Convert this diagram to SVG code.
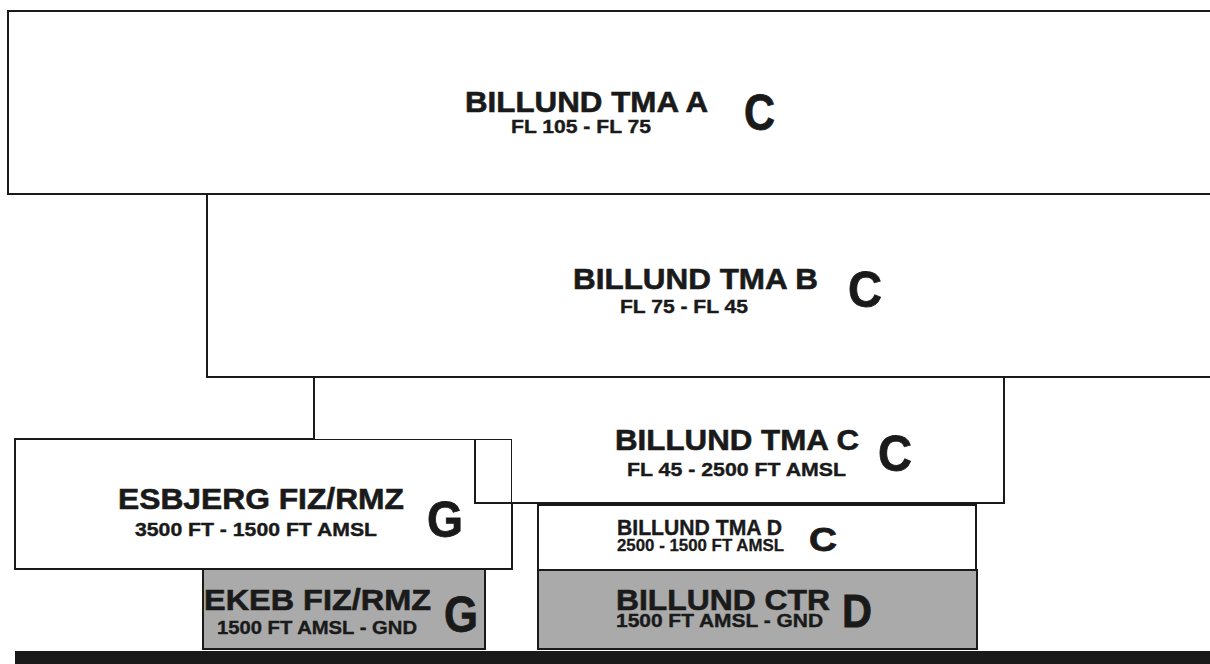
<svg xmlns="http://www.w3.org/2000/svg" width="1210" height="664" viewBox="0 0 1210 664">
<style>
.box{fill:#ffffff;stroke:#1a1a1a;stroke-width:2}
.gray{fill:#aaaaaa;stroke:#1a1a1a;stroke-width:2}
text{font-family:"Liberation Sans",Arial,sans-serif;font-weight:bold;fill:#1a1a1a;stroke:#1a1a1a;stroke-width:0.6}
.t{font-size:30px}
.s{font-size:19px;stroke-width:0.4}
.d{font-size:22px;stroke-width:0.4}
.d2{font-size:17px;stroke-width:0.3}
.big{font-size:50px;stroke-width:0.8}
</style>
<rect x="0" y="0" width="1210" height="664" fill="#ffffff"/>
<g id="tma-a">
<rect class="box" x="8" y="11" width="1220" height="183"/>
<text class="t" x="465" y="112" textLength="243" lengthAdjust="spacingAndGlyphs">BILLUND TMA A</text>
<text class="s" x="511" y="133" textLength="140" lengthAdjust="spacingAndGlyphs">FL 105 - FL 75</text>
<text class="big" x="744" y="130" textLength="31" lengthAdjust="spacingAndGlyphs">C</text>
</g>
<g id="tma-b">
<rect class="box" x="207" y="194" width="1020" height="183"/>
<text class="t" x="573" y="289" textLength="245" lengthAdjust="spacingAndGlyphs">BILLUND TMA B</text>
<text class="s" x="620" y="313" textLength="128" lengthAdjust="spacingAndGlyphs">FL 75 - FL 45</text>
<text class="big" x="848" y="307" textLength="34" lengthAdjust="spacingAndGlyphs">C</text>
</g>
<g id="esbjerg">
<rect class="box" x="15" y="439" width="497" height="130"/>
<text class="t" x="118" y="509" textLength="286" lengthAdjust="spacingAndGlyphs">ESBJERG FIZ/RMZ</text>
<text class="s" x="135" y="536" textLength="242" lengthAdjust="spacingAndGlyphs">3500 FT - 1500 FT AMSL</text>
<text class="big" x="427" y="537" textLength="36" lengthAdjust="spacingAndGlyphs">G</text>
</g>
<g id="tma-c">
<path d="M314 377 H1004 V503 H512 V439 H314 Z" fill="#ffffff" stroke="none"/>
<path d="M314 439 V377 H1004 V503 H475 V439" fill="none" stroke="#1a1a1a" stroke-width="2"/>
<text class="t" x="615" y="450" textLength="244" lengthAdjust="spacingAndGlyphs">BILLUND TMA C</text>
<text class="s" x="627" y="476" textLength="219" lengthAdjust="spacingAndGlyphs">FL 45 - 2500 FT AMSL</text>
<text class="big" x="878" y="471" textLength="34" lengthAdjust="spacingAndGlyphs">C</text>
</g>
<g id="tma-d">
<rect class="box" x="538" y="505" width="438" height="65"/>
<text class="d" x="617" y="535" textLength="165" lengthAdjust="spacingAndGlyphs">BILLUND TMA D</text>
<text class="d2" x="617" y="551" textLength="167" lengthAdjust="spacingAndGlyphs">2500 - 1500 FT AMSL</text>
<text class="big" x="809" y="551" textLength="28" lengthAdjust="spacingAndGlyphs" style="font-size:34px">C</text>
</g>
<g id="ekeb">
<rect class="gray" x="203" y="569" width="282" height="80"/>
<text class="t" x="204" y="610" textLength="227" lengthAdjust="spacingAndGlyphs">EKEB FIZ/RMZ</text>
<text class="s" x="217" y="634" textLength="200" lengthAdjust="spacingAndGlyphs">1500 FT AMSL - GND</text>
<text class="big" x="444" y="632" textLength="34" lengthAdjust="spacingAndGlyphs">G</text>
</g>
<g id="ctr">
<rect class="gray" x="538" y="570" width="439" height="79"/>
<text class="t" x="616" y="610" textLength="214" lengthAdjust="spacingAndGlyphs">BILLUND CTR</text>
<text class="s" x="616" y="627" textLength="207" lengthAdjust="spacingAndGlyphs">1500 FT AMSL - GND</text>
<text class="big" x="842" y="627" textLength="30" lengthAdjust="spacingAndGlyphs" style="font-size:47px">D</text>
</g>
<g id="ground">
<rect x="15" y="651" width="1200" height="14" fill="#1a1a1a"/>
</g>
<g id="connectors"></g>
</svg>
